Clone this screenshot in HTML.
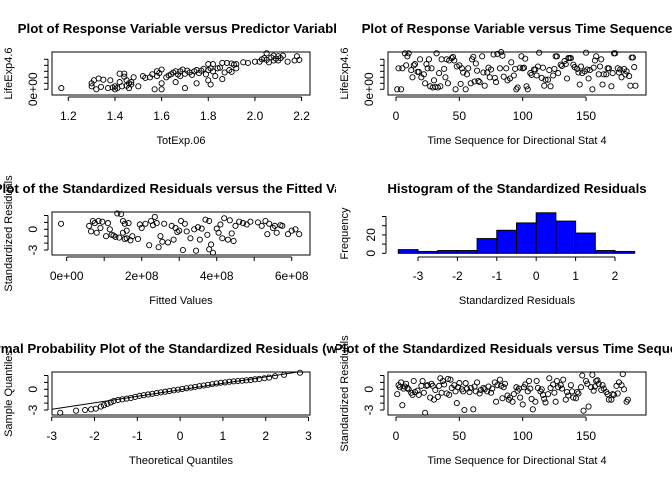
<!DOCTYPE html>
<html><head><meta charset="utf-8"><style>
html,body{margin:0;padding:0;background:#fff}
svg{display:block;font-family:"Liberation Sans",Arial,sans-serif}
.t{font-weight:bold;font-size:13.3px}
.tk{font-size:12px}
.lb{font-size:11px}
</style></head><body>
<svg id="c" width="672" height="480" viewBox="0 0 672 480" xmlns="http://www.w3.org/2000/svg"></svg>
<script>
// Panel 1: TotExp.06 vs LifeExp4.6 (y in axis units, 0 = 0e+00 tick)
const p1X = [1.17,1.3,1.3,1.31,1.32,1.33,1.34,1.35,1.37,1.38,1.39,1.4,1.4,1.41,1.42,1.42,1.43,1.44,1.44,1.45,1.45,1.46,1.46,1.47,1.47,1.48,1.5,1.52,1.53,1.55,1.56,1.57,1.58,1.58,1.59,1.6,1.6,1.6,1.62,1.63,1.64,1.65,1.66,1.66,1.67,1.68,1.68,1.69,1.7,1.7,1.71,1.72,1.73,1.74,1.75,1.75,1.76,1.77,1.78,1.79,1.8,1.8,1.8,1.81,1.81,1.82,1.82,1.83,1.84,1.85,1.86,1.86,1.87,1.88,1.89,1.9,1.9,1.91,1.92,1.92,1.95,1.97,2.0,2.02,2.03,2.04,2.05,2.05,2.06,2.07,2.08,2.08,2.09,2.1,2.1,2.11,2.12,2.14,2.17,2.18,2.19];
const p1Y = [0.2,0.5,1,1.5,0,1.8,0.4,1.6,0.2,1.5,0.3,0.5,0,0.2,1.2,2.6,0.5,2.1,2.6,0.6,1.5,1,0.2,0.8,1.2,2,0.5,2.2,1.9,2,2.5,0,2.2,3,2.7,3.3,1,0,2,2.3,2.5,2.8,3,1.2,2.5,3,2.2,3.3,0.2,2.6,3.1,2.8,2.4,3,3.2,1,2.7,3.1,3.4,2.5,3.2,4.2,1.5,3.5,0.8,4.2,3,2.2,3.5,3.6,4.4,1.7,2.8,4.4,3.2,4.3,2.9,4.1,4.2,3.5,4.5,4.4,4.6,4.6,5,5.2,6,4.9,4.5,5.3,5.6,4.8,5.1,5.5,4.8,5.2,5.6,4.6,4.8,5.5,4.9];
// Panel 2: time vs LifeExp4.6
const p2X = [1,2,4,5,7,8,9,10,12,13,14,15,17,18,19,20,22,23,24,25,26,27,28,29,30,31,32,33,34,35,36,38,39,40,41,42,44,45,46,47,48,50,51,52,53,55,56,57,59,60,61,62,63,64,65,66,68,69,70,72,73,74,75,77,78,79,80,82,83,84,85,87,88,90,91,93,94,95,96,98,99,100,101,102,103,104,106,107,109,110,111,112,113,115,116,117,118,120,121,122,124,125,126,127,128,130,131,133,134,135,136,137,138,140,141,143,144,145,146,147,149,150,151,152,153,155,156,157,158,160,161,162,163,164,166,167,168,170,171,172,173,175,176,177,178,180,181,182,184,185,186,187,188,189];
const p2Y = [0,3.5,0,3.5,6,4,5.5,6,3.2,2,4,4.2,2.9,2.9,5,2,2.5,1,4.2,3.5,5,0.5,3.5,0.3,1.5,0.4,6,0.3,2.7,0.5,5,3.4,2,5,1,4.8,5.2,5.4,4.8,0,3.8,4,0.9,3.5,2.8,0,2.5,3.5,1,5,5.4,1.3,4.3,3.1,1.4,1.2,5.5,2.8,0.6,2.8,3.6,2,3.3,5.8,1.9,1.2,5.9,3.5,6.2,5.6,2.1,3.5,1.5,1.8,4.5,2.3,3.4,0,0.3,3.6,5.5,3.5,3.6,5.1,0.5,0,2.7,2.4,3.3,3.3,2.3,3.8,6.1,1.9,3.6,0.6,1.6,1.6,3.2,0.5,2.3,3.4,5.5,5.5,2.7,4.1,3.9,4.7,4.2,1.8,5.2,5.2,5.2,4.1,3.7,3.4,2.8,0.8,3.8,2.7,3,6.1,3.3,1.8,3.2,0,3.6,4.8,5.5,2.5,3.8,5,0.8,2.5,2.5,3.5,3.5,0.5,2.7,6,6,3.5,2.8,3.3,2,3.4,2.5,3,2.2,0.6,5.3,5.3,3.7,0.6,4.3,3.5,2.8,1.5,0,0];
// Panel 3: fitted values (x1e8) vs standardized residuals
const p3X = [-0.15,0.6,0.65,0.7,0.75,0.8,0.85,0.9,0.95,1.05,1.1,1.15,1.2,1.25,1.3,1.35,1.4,1.45,1.5,1.5,1.55,1.55,1.6,1.6,1.65,1.7,1.75,1.9,1.95,2.0,2.1,2.2,2.25,2.3,2.35,2.4,2.45,2.5,2.55,2.6,2.7,2.8,2.85,2.9,2.95,3.0,3.05,3.1,3.15,3.2,3.3,3.4,3.45,3.5,3.55,3.6,3.7,3.75,3.8,3.8,3.85,3.9,4.0,4.05,4.1,4.15,4.2,4.3,4.35,4.4,4.45,4.5,4.6,4.7,4.8,4.9,5.1,5.2,5.3,5.35,5.4,5.5,5.55,5.6,5.7,5.75,5.9,6.0,6.1,6.2];
const p3Y = [0.8,0.5,-0.3,1.2,0.9,-0.5,1.2,0.2,1.1,-1,0.9,0,-0.8,-0.9,-1.1,2.3,-1.2,2.2,1.2,-0.5,-1.4,0.8,-0.2,-1.3,0.9,-1.6,-1,-1.4,0.7,0.2,0.8,-2.3,1.2,0.6,1.8,0.9,-2.6,-1,-1.8,0.8,-1.9,0.5,-1.5,0.2,-0.4,-0.2,1.2,-3,0.8,-0.3,-1.3,0,-3.1,0.3,-1.5,0.1,1.4,-0.8,-2.9,1.2,-2.2,-3.4,0.1,-0.5,0.7,-1.3,1.6,-1.5,1.3,-0.6,-1.7,0.5,1.1,0.9,0.7,1.1,1,0.5,1.2,-0.7,0.8,0.2,0.5,-0.5,0.6,0.5,-0.7,-0.2,0,-0.7];
// Panel 4: histogram of standardized residuals
const hBreaks = [-3.5,-3,-2.5,-2,-1.5,-1,-0.5,0,0.5,1,1.5,2,2.5];
const hCounts = [4,2,3,3,16,25,33,44,35,22,3,2];
// Panel 5: QQ plot (theoretical, sample)
const qX = [-2.8,-2.43,-2.22,-2.08,-1.97,-1.85,-1.78,-1.7,-1.62,-1.55,-1.45,-1.35,-1.25,-1.15,-1.05,-0.95,-0.85,-0.75,-0.65,-0.55,-0.45,-0.35,-0.25,-0.15,-0.05,0.05,0.15,0.25,0.35,0.45,0.55,0.65,0.75,0.85,0.95,1.05,1.15,1.25,1.35,1.45,1.55,1.65,1.75,1.85,1.97,2.08,2.22,2.43,2.8];
const qY = [-3.4,-3.1,-3.0,-2.9,-2.8,-2.5,-2.3,-2.1,-1.9,-1.7,-1.55,-1.45,-1.35,-1.25,-1.1,-0.95,-0.85,-0.75,-0.65,-0.55,-0.45,-0.35,-0.25,-0.15,-0.05,0.05,0.15,0.25,0.35,0.45,0.55,0.65,0.75,0.85,0.95,1.0,1.1,1.15,1.2,1.25,1.3,1.35,1.45,1.5,1.6,1.7,1.9,2.1,2.4];
const qLine = [-0.08, 0.94]; // intercept, slope
// Panel 6: time vs standardized residuals
const p6X = [1,2,3,4,5,6,7,8,9,10,12,13,14,15,17,18,20,21,22,23,24,25,27,28,29,30,31,33,34,35,36,37,38,40,41,42,43,44,46,47,48,49,50,52,53,54,55,56,58,59,61,62,63,64,66,67,69,70,72,73,75,76,78,79,80,82,83,84,85,86,88,89,90,92,93,95,96,97,98,100,101,102,104,105,106,107,108,110,111,112,114,115,116,117,118,120,121,122,124,125,126,127,128,130,131,132,134,135,136,138,139,140,142,143,144,146,147,148,150,151,152,154,155,156,157,158,159,160,162,163,164,166,167,168,170,171,172,174,175,176,178,179,180,182,183,184,185,186,187,188,189];
const p6Y = [-0.7,0.6,0.3,1,-2.3,0.1,0.4,0.8,0.2,0,-0.5,-0.8,1.2,-0.4,-0.2,-0.8,0.5,1.2,-0.5,-3.4,0.5,0.6,-1.2,0.8,0.5,-1.5,-0.1,-1.1,0.5,1.6,-0.5,1.2,0.7,-0.6,1.5,-0.8,1.4,0.2,0.6,-0.3,-2,0.3,0.9,0,-0.3,-3,0.9,0.1,-0.4,0.2,-2.9,0.4,-0.3,1,-0.6,-0.1,0.2,0,-0.3,0.4,-0.5,0.1,1,-1.8,0.6,1.4,0.5,-1.3,0.3,0.8,-0.9,-1.5,-1.2,-1.8,-0.7,0.3,-0.2,0.1,-1.2,-2.2,0.3,0.7,-0.3,1.2,0.1,-1.4,-2.9,-1.8,1.2,0.2,-0.3,0,-0.8,-1.4,-1.9,-0.7,1.6,0.2,0.7,-0.5,-1.8,1.2,0.3,0.6,0.1,1.4,-1.5,-0.4,-0.9,0.6,-0.3,-1.2,-1.3,-0.4,-0.6,0.3,2.0,-3.1,1.2,0.8,-2.5,0.3,2.1,-0.2,0.4,1.2,1.3,0.8,-0.1,0.6,0.1,-0.4,-0.7,-1.5,-1.5,-0.7,-0.8,0.5,-0.6,1,0.6,2.2,0,-1.8,-1.5];

const svg = document.getElementById('c');
const NS = 'http://www.w3.org/2000/svg';
function mk(tag, attrs, parent){ const e=document.createElementNS(NS,tag); for(const k in attrs) e.setAttribute(k,attrs[k]); (parent||svg).appendChild(e); return e; }
function txt(s, x, y, cls, parent, rot){ const e=mk('text',{x:x,y:y,'text-anchor':'middle','class':cls},parent); if(rot) e.setAttribute('transform','rotate(-90 '+x+' '+y+')'); e.textContent=s; return e; }

const panels=[[0,0],[336,0],[0,160],[336,160],[0,320],[336,320]];
const BX0=52, BX1=310, BY0=52, BY1=95;

function panelGroup(i,name){
  const [ox,oy]=panels[i];
  const cp=mk('clipPath',{id:'clip'+i}); mk('rect',{x:ox,y:oy,width:336,height:160},cp);
  const g=mk('g',{'clip-path':'url(#clip'+i+')'});
  
  
  return g;
}
function title(g,i,s){ const [ox,oy]=panels[i]; const t=txt(s,ox+181,oy+33,'t',g);
  
   }
function box(g,i){ const [ox,oy]=panels[i]; const r=mk('rect',{x:ox+BX0,y:oy+BY0,width:BX1-BX0,height:BY1-BY0,fill:'none',stroke:'#000','stroke-width':1},g);
  
   }
function xaxis(g,i,sx,ticks,labels,lab){
  const [ox,oy]=panels[i]; const y=oy+97;
  mk('line',{x1:sx(ticks[0]),x2:sx(ticks[ticks.length-1]),y1:y,y2:y,stroke:'#000'},g);
  ticks.forEach((t,j)=>{ mk('line',{x1:sx(t),x2:sx(t),y1:y,y2:y+4,stroke:'#000'},g);
    if(labels[j]!==''){ const e=txt(labels[j],sx(t),oy+120,'tk',g);
      
       } });
  const l=txt(lab,ox+181,oy+144,'lb',g);
  
  
}
function yaxis(g,i,sy,ticks,labels,lab,axX){
  const [ox,oy]=panels[i]; const x=ox+(axX||48);
  mk('line',{x1:x,x2:x,y1:sy(ticks[0]),y2:sy(ticks[ticks.length-1]),stroke:'#000'},g);
  ticks.forEach((t,j)=>{ mk('line',{x1:x,x2:x-4,y1:sy(t),y2:sy(t),stroke:'#000'},g);
    if(labels[j]!==''){ const e=txt(labels[j],x-11,sy(t),'tk',g,true);
      
       } });
  const l=txt(lab,ox+12,oy+73.5,'lb',g,true);
  
  
}
function pts(g,xs,ys,sx,sy){ xs.forEach((v,k)=>{ const c=mk('circle',{cx:sx(v),cy:sy(ys[k]),r:2.6,fill:'none',stroke:'#000','stroke-width':0.9},g);
  
   }); }

// Panel 1
{ const i=0,[ox,oy]=panels[i]; const g=panelGroup(i,'response-vs-predictor-panel');
  const sx=v=>ox+68.3+(v-1.2)*233.3, sy=v=>oy+89.3-v*6;
  title(g,i,'Plot of Response Variable versus Predictor Variable');
  pts(g,p1X,p1Y,sx,sy); box(g,i);
  xaxis(g,i,sx,[1.2,1.4,1.6,1.8,2.0,2.2],['1.2','1.4','1.6','1.8','2.0','2.2'],'TotExp.06');
  yaxis(g,i,sy,[0,1,2,3,4,5],['0e+00','','','','',''],'LifeExp4.6'); }
// Panel 2
{ const i=1,[ox,oy]=panels[i]; const g=panelGroup(i,'response-vs-time-panel');
  const sx=v=>ox+60+v*1.267, sy=v=>oy+89.3-v*6;
  title(g,i,'Plot of Response Variable versus Time Sequence');
  pts(g,p2X,p2Y,sx,sy); box(g,i);
  xaxis(g,i,sx,[0,50,100,150],['0','50','100','150'],'Time Sequence for Directional Stat 4');
  yaxis(g,i,sy,[0,1,2,3,4,5],['0e+00','','','','',''],'LifeExp4.6'); }
// Panel 3
{ const i=2,[ox,oy]=panels[i]; const g=panelGroup(i,'residuals-vs-fitted-panel');
  const sx=v=>ox+66.7+v*37.5, sy=v=>oy+69.3-v*6.9;
  title(g,i,'Plot of the Standardized Residuals versus the Fitted Values');
  pts(g,p3X,p3Y,sx,sy); box(g,i);
  xaxis(g,i,sx,[0,1,2,3,4,5,6],['0e+00','','2e+08','','4e+08','','6e+08'],'Fitted Values');
  yaxis(g,i,sy,[-3,-2,-1,0,1,2],['-3','','','0','',''],'Standardized Residuals'); }
// Panel 4 histogram
{ const i=3,[ox,oy]=panels[i]; const g=panelGroup(i,'residual-histogram-panel');
  const sx=v=>ox+418+(v+3)*39.4-336, sy=v=>oy+93.3-v*0.92;
  title(g,i,'Histogram of the Standardized Residuals');
  hCounts.forEach((c,k)=>{ const x0=sx(hBreaks[k]), x1=sx(hBreaks[k+1]);
    const r=mk('rect',{x:x0,y:sy(c),width:x1-x0,height:sy(0)-sy(c),fill:'#0000ff',stroke:'#000','stroke-width':1},g);
    
     });
  xaxis(g,i,sx,[-3,-2,-1,0,1,2],['-3','-2','-1','0','1','2'],'Standardized Residuals');
  yaxis(g,i,sy,[0,10,20,30,40],['0','','20','',''],'Frequency',50); }
// Panel 5 QQ
{ const i=4,[ox,oy]=panels[i]; const g=panelGroup(i,'normal-qq-panel');
  const sx=v=>ox+51.7+(v+3)*42.8, sy=v=>oy+69.3-v*6.9;
  title(g,i,'Normal Probability Plot of the Standardized Residuals (with line)');
  const cp=mk('clipPath',{id:'qqclip'}); mk('rect',{x:ox+BX0,y:oy+BY0,width:BX1-BX0,height:BY1-BY0},cp);
  const ln=mk('line',{x1:sx(-3.2),y1:sy(qLine[0]+qLine[1]*-3.2),x2:sx(3.2),y2:sy(qLine[0]+qLine[1]*3.2),stroke:'#000','stroke-width':1,'clip-path':'url(#qqclip)'},g);
  
  
  pts(g,qX,qY,sx,sy); box(g,i);
  xaxis(g,i,sx,[-3,-2,-1,0,1,2,3],['-3','-2','-1','0','1','2','3'],'Theoretical Quantiles');
  yaxis(g,i,sy,[-3,-2,-1,0,1,2],['-3','','','0','',''],'Sample Quantiles'); }
// Panel 6
{ const i=5,[ox,oy]=panels[i]; const g=panelGroup(i,'residuals-vs-time-panel');
  const sx=v=>ox+60+v*1.267, sy=v=>oy+69.3-v*6.9;
  title(g,i,'Plot of the Standardized Residuals versus Time Sequence');
  pts(g,p6X,p6Y,sx,sy); box(g,i);
  xaxis(g,i,sx,[0,50,100,150],['0','50','100','150'],'Time Sequence for Directional Stat 4');
  yaxis(g,i,sy,[-3,-2,-1,0,1,2],['-3','','','0','',''],'Standardized Residuals'); }
</script>
</body></html>
